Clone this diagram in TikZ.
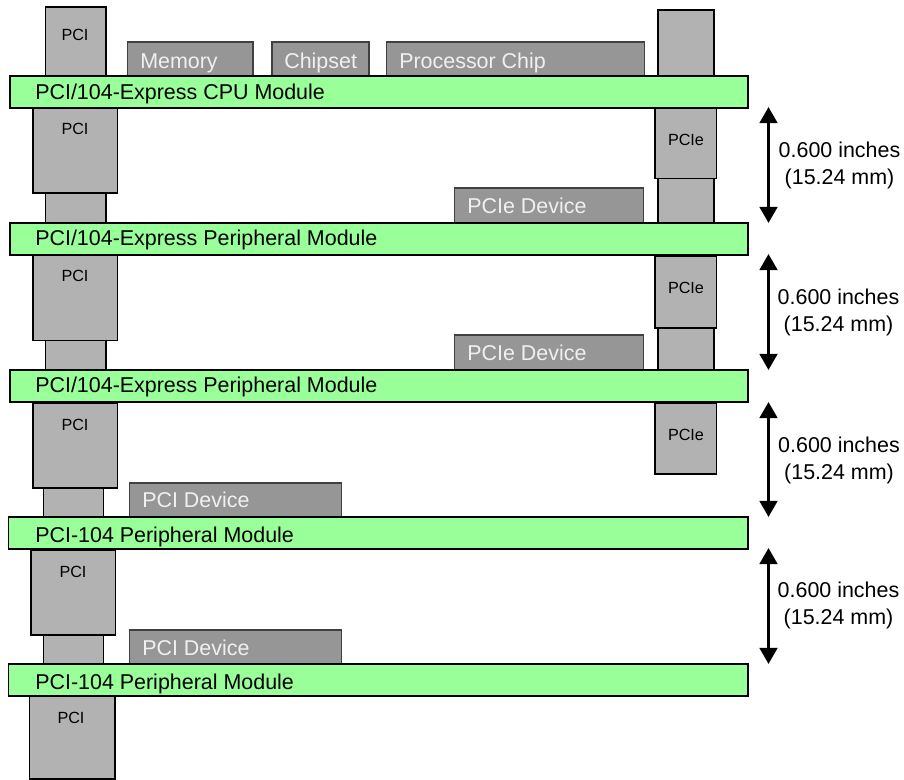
\documentclass[tikz,border=0pt]{standalone}
\usepackage{fontspec}
\setmainfont{Liberation Sans}
\usetikzlibrary{arrows.meta}
\definecolor{boardgreen}{HTML}{99FF99}
\definecolor{sockgray}{HTML}{B2B2B2}
\definecolor{chipgray}{HTML}{969696}
\tikzset{%
	board/.style={
		draw=black,
		line width=1.4pt,
		fill=boardgreen
	},
	sock/.style={
		draw=black,
		line width=1.3pt,
		fill=sockgray
	},
	chip/.style={
		draw=black!75,
		line width=0.8pt,
		fill=chipgray
	},
	boardtext/.style={
		anchor=base west,
		inner sep=0pt,
		font=\fontsize{15.25pt}{18pt}\selectfont
	},
	chiptext/.style={
		boardtext,
		text=white!94!black
	},
	socktext/.style={
		inner sep=0pt,
		font=\fontsize{11.5pt}{14pt}\selectfont
	},
	gaptext/.style={
		align=center,
		inner sep=0pt,
		font=\fontsize{15.25pt}{19.2pt}\selectfont
	},
	gap/.style={
		{Triangle[length=11.5pt,width=12.5pt]}-{Triangle[length=11.5pt,width=12.5pt]},
		line width=2.3pt
	},
}

\begin{document}
\begin{tikzpicture}[x=0.025cm,y=-0.025cm]
	\useasboundingbox (0,0) rectangle (904,780);

	% Sockets on top of the CPU module
	\draw[sock] (45.5,7) rectangle (105.7,76);
	\node[socktext] (pcitop) at (75,35) {PCI};
	\draw[sock] (657.7,10) rectangle (714,76);

	% Chips on the CPU module
	\draw[chip] (127.5,42) rectangle (253,76);
	\node[chiptext] (memory) at (140,68.7) {Memory};
	\draw[chip] (272,42) rectangle (369,76);
	\node[chiptext] (chipset) at (284,68.7) {Chipset};
	\draw[chip] (386.5,42) rectangle (644.5,76);
	\node[chiptext] (processor) at (399,68.7) {Processor Chip};

	% CPU module and the level below it
	\draw[sock] (45.5,193) rectangle (105.7,223);
	\draw[sock] (32.7,108) rectangle (117.5,193);
	\node[socktext] (pcia) at (75,129) {PCI};
	\draw[sock] (657.7,178.5) rectangle (714,223);
	\draw[sock] (654.7,107.7) rectangle (716.5,178.5);
	\node[socktext] (pciea) at (686,140) {PCIe};
	\draw[chip] (454.5,188) rectangle (643.5,223);
	\node[chiptext] (devicea) at (467,214) {PCIe Device};
	\draw[board] (10,76) rectangle (748,107.7);
	\node[boardtext] (cpumodule) at (35,100) {PCI/104-Express CPU Module};

	% First peripheral module
	\draw[sock] (45.5,340.5) rectangle (105.7,370);
	\draw[sock] (32.7,255.5) rectangle (117.5,340.5);
	\node[socktext] (pcib) at (75,276) {PCI};
	\draw[sock] (657.7,328) rectangle (714,370);
	\draw[sock] (654.7,256) rectangle (716.5,328);
	\node[socktext] (pcieb) at (686,288) {PCIe};
	\draw[chip] (454.5,335) rectangle (643.5,370);
	\node[chiptext] (deviceb) at (467,361) {PCIe Device};
	\draw[board] (10,223) rectangle (748,255);
	\node[boardtext] (modulea) at (35,246) {PCI/104-Express Peripheral Module};

	% Second peripheral module
	\draw[sock] (43.5,488) rectangle (103.5,517);
	\draw[sock] (32.7,403) rectangle (117.5,488);
	\node[socktext] (pcic) at (75,425) {PCI};
	\draw[sock] (654.7,403) rectangle (716.5,474);
	\node[socktext] (pciec) at (686,435) {PCIe};
	\draw[chip] (129.5,483) rectangle (341.5,517);
	\node[chiptext] (devicec) at (142,508) {PCI Device};
	\draw[board] (10,370) rectangle (748,402);
	\node[boardtext] (moduleb) at (35,393) {PCI/104-Express Peripheral Module};

	% Third peripheral module
	\draw[sock] (43.5,635) rectangle (103.5,664.5);
	\draw[sock] (31,550) rectangle (115.5,635);
	\node[socktext] (pcid) at (73,572) {PCI};
	\draw[chip] (129.5,630) rectangle (341.5,664);
	\node[chiptext] (deviced) at (142,656) {PCI Device};
	\draw[board] (8.5,517) rectangle (748,549);
	\node[boardtext] (modulec) at (35,543) {PCI-104 Peripheral Module};

	% Fourth peripheral module
	\draw[board] (8.5,664) rectangle (748,696);
	\node[boardtext] (moduled) at (35,690) {PCI-104 Peripheral Module};
	\draw[sock] (29.5,696) rectangle (115,779);
	\node[socktext] (pcie) at (71,718) {PCI};

	% Spacing between the modules
	\coordinate (topa) at (768.5,107);
	\coordinate (bota) at (768.5,223);
	\coordinate (topb) at (768.5,254);
	\coordinate (botb) at (768.5,370);
	\coordinate (topc) at (768.5,402);
	\coordinate (botc) at (768.5,517);
	\coordinate (topd) at (768.5,548);
	\coordinate (botd) at (768.5,664);
	\draw[gap] (topa) -- (bota);
	\draw[gap] (topb) -- (botb);
	\draw[gap] (topc) -- (botc);
	\draw[gap] (topd) -- (botd);
	\node[gaptext] (gapa) at (839.5,165.5) {0.600 inches\\(15.24 mm)};
	\node[gaptext] (gapb) at (838.5,312.5) {0.600 inches\\(15.24 mm)};
	\node[gaptext] (gapc) at (839,460.5) {0.600 inches\\(15.24 mm)};
	\node[gaptext] (gapd) at (838.5,605) {0.600 inches\\(15.24 mm)};
\end{tikzpicture}
\end{document}
